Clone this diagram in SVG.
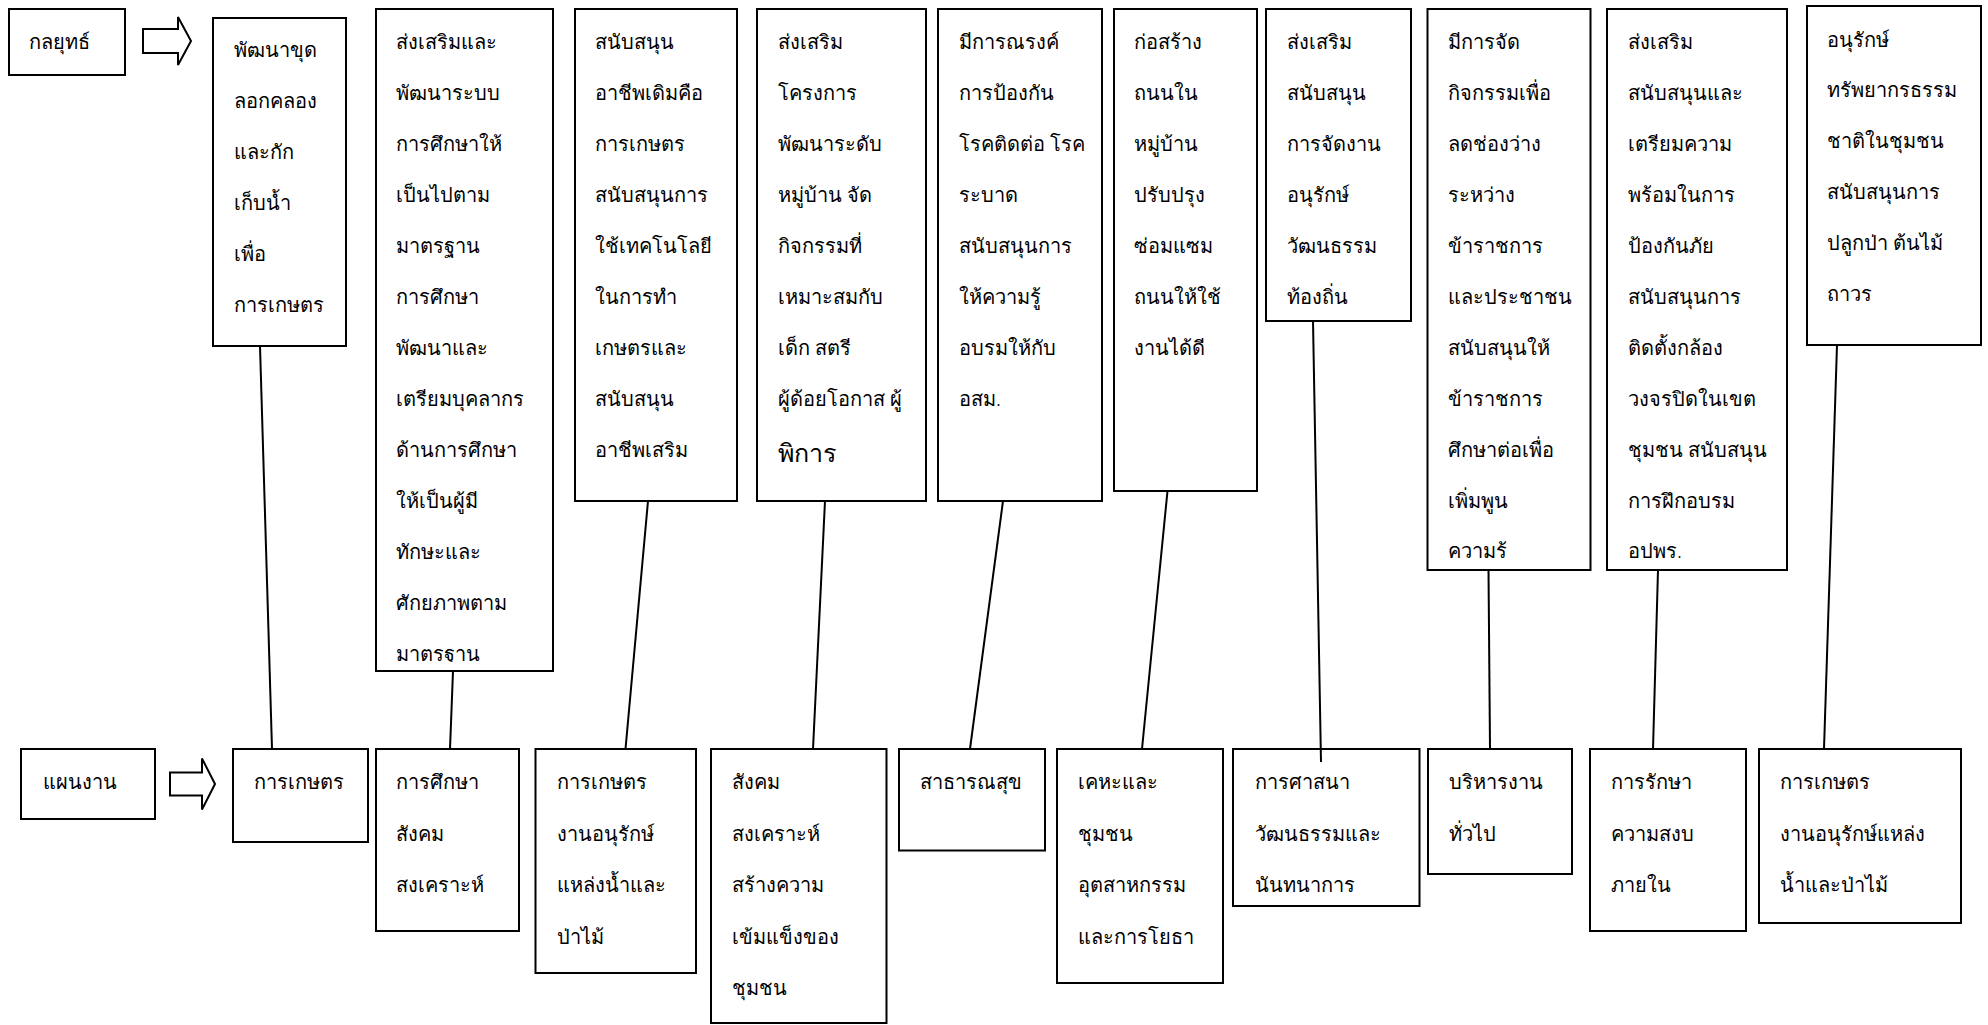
<svg xmlns="http://www.w3.org/2000/svg" width="1988" height="1025" viewBox="0 0 1988 1025">
<style>
.box{fill:#fff;stroke:#000;stroke-width:2}
.arr{fill:#fff;stroke:#000;stroke-width:2;stroke-linejoin:miter}
.t{font-family:"Noto Sans","DejaVu Sans",sans-serif;font-size:20px;font-weight:300;fill:#000}
.big{font-size:25px}
.conn line{stroke:#000;stroke-width:2}
</style>
<defs>
<clipPath id="clipB2"><rect x="376" y="9" width="177" height="653"/></clipPath>
<clipPath id="clipB8"><rect x="1427" y="9" width="164" height="550"/></clipPath>
</defs>
<rect width="1988" height="1025" fill="#fff"/>

<g id="label-strategy">
<rect class="box" x="9" y="9" width="116" height="66"/>
<text class="t" x="29" y="49">กลยุทธ์</text>
</g>
<g id="arrow-strategy">
<polygon class="arr" points="143,29 178,29 178,17 191,41 178,65 178,53 143,53"/>
</g>

<g id="s1">
<rect class="box" x="213" y="18" width="133" height="328"/>
<text class="t"><tspan x="234" y="57">พัฒนาขุด</tspan><tspan x="234" y="108">ลอกคลอง</tspan><tspan x="234" y="159">และกัก</tspan><tspan x="234" y="210">เก็บน้ำ</tspan><tspan x="234" y="261">เพื่อ</tspan><tspan x="234" y="312">การเกษตร</tspan></text>
</g>

<g id="s2">
<rect class="box" x="376" y="9" width="177" height="662"/>
<text class="t" clip-path="url(#clipB2)"><tspan x="396" y="49">ส่งเสริมและ</tspan><tspan x="396" y="100">พัฒนาระบบ</tspan><tspan x="396" y="151">การศึกษาให้</tspan><tspan x="396" y="202">เป็นไปตาม</tspan><tspan x="396" y="253">มาตรฐาน</tspan><tspan x="396" y="304">การศึกษา</tspan><tspan x="396" y="355">พัฒนาและ</tspan><tspan x="396" y="406">เตรียมบุคลากร</tspan><tspan x="396" y="457">ด้านการศึกษา</tspan><tspan x="396" y="508">ให้เป็นผู้มี</tspan><tspan x="396" y="559">ทักษะและ</tspan><tspan x="396" y="610">ศักยภาพตาม</tspan><tspan x="396" y="661">มาตรฐาน</tspan></text>
</g>

<g id="s3">
<rect class="box" x="575" y="9" width="162" height="492"/>
<text class="t"><tspan x="595" y="49">สนับสนุน</tspan><tspan x="595" y="100">อาชีพเดิมคือ</tspan><tspan x="595" y="151">การเกษตร</tspan><tspan x="595" y="202">สนับสนุนการ</tspan><tspan x="595" y="253">ใช้เทคโนโลยี</tspan><tspan x="595" y="304">ในการทำ</tspan><tspan x="595" y="355">เกษตรและ</tspan><tspan x="595" y="406">สนับสนุน</tspan><tspan x="595" y="457">อาชีพเสริม</tspan></text>
</g>

<g id="s4">
<rect class="box" x="757" y="9" width="169" height="492"/>
<text class="t"><tspan x="778" y="49">ส่งเสริม</tspan><tspan x="778" y="100">โครงการ</tspan><tspan x="778" y="151">พัฒนาระดับ</tspan><tspan x="778" y="202">หมู่บ้าน จัด</tspan><tspan x="778" y="253">กิจกรรมที่</tspan><tspan x="778" y="304">เหมาะสมกับ</tspan><tspan x="778" y="355">เด็ก สตรี</tspan><tspan x="778" y="406">ผู้ด้อยโอกาส ผู้</tspan><tspan class="big" x="778" y="462">พิการ</tspan></text>
</g>

<g id="s5">
<rect class="box" x="938" y="9" width="164" height="492"/>
<text class="t"><tspan x="959" y="49">มีการณรงค์</tspan><tspan x="959" y="100">การป้องกัน</tspan><tspan x="959" y="151">โรคติดต่อ โรค</tspan><tspan x="959" y="202">ระบาด</tspan><tspan x="959" y="253">สนับสนุนการ</tspan><tspan x="959" y="304">ให้ความรู้</tspan><tspan x="959" y="355">อบรมให้กับ</tspan><tspan x="959" y="406">อสม.</tspan></text>
</g>

<g id="s6">
<rect class="box" x="1114" y="9" width="143" height="482"/>
<text class="t"><tspan x="1134" y="49">ก่อสร้าง</tspan><tspan x="1134" y="100">ถนนใน</tspan><tspan x="1134" y="151">หมู่บ้าน</tspan><tspan x="1134" y="202">ปรับปรุง</tspan><tspan x="1134" y="253">ซ่อมแซม</tspan><tspan x="1134" y="304">ถนนให้ใช้</tspan><tspan x="1134" y="355">งานได้ดี</tspan></text>
</g>

<g id="s7">
<rect class="box" x="1266" y="9" width="145" height="312"/>
<text class="t"><tspan x="1287" y="49">ส่งเสริม</tspan><tspan x="1287" y="100">สนับสนุน</tspan><tspan x="1287" y="151">การจัดงาน</tspan><tspan x="1287" y="202">อนุรักษ์</tspan><tspan x="1287" y="253">วัฒนธรรม</tspan><tspan x="1287" y="304">ท้องถิ่น</tspan></text>
</g>

<g id="s8">
<rect class="box" x="1427.5" y="9" width="163" height="561"/>
<text class="t" clip-path="url(#clipB8)"><tspan x="1448" y="49">มีการจัด</tspan><tspan x="1448" y="100">กิจกรรมเพื่อ</tspan><tspan x="1448" y="151">ลดช่องว่าง</tspan><tspan x="1448" y="202">ระหว่าง</tspan><tspan x="1448" y="253">ข้าราชการ</tspan><tspan x="1448" y="304">และประชาชน</tspan><tspan x="1448" y="355">สนับสนุนให้</tspan><tspan x="1448" y="406">ข้าราชการ</tspan><tspan x="1448" y="457">ศึกษาต่อเพื่อ</tspan><tspan x="1448" y="508">เพิ่มพูน</tspan><tspan x="1448" y="558">ความรู้</tspan></text>
</g>

<g id="s9">
<rect class="box" x="1607" y="9" width="180" height="561"/>
<text class="t"><tspan x="1628" y="49">ส่งเสริม</tspan><tspan x="1628" y="100">สนับสนุนและ</tspan><tspan x="1628" y="151">เตรียมความ</tspan><tspan x="1628" y="202">พร้อมในการ</tspan><tspan x="1628" y="253">ป้องกันภัย</tspan><tspan x="1628" y="304">สนับสนุนการ</tspan><tspan x="1628" y="355">ติดตั้งกล้อง</tspan><tspan x="1628" y="406">วงจรปิดในเขต</tspan><tspan x="1628" y="457">ชุมชน สนับสนุน</tspan><tspan x="1628" y="508">การฝึกอบรม</tspan><tspan x="1628" y="558">อปพร.</tspan></text>
</g>

<g id="s10">
<rect class="box" x="1807" y="6" width="174" height="339"/>
<text class="t"><tspan x="1827" y="46.5">อนุรักษ์</tspan><tspan x="1827" y="97.3">ทรัพยากรธรรม</tspan><tspan x="1827" y="148.1">ชาติในชุมชน</tspan><tspan x="1827" y="198.9">สนับสนุนการ</tspan><tspan x="1827" y="249.7">ปลูกป่า ต้นไม้</tspan><tspan x="1827" y="300.5">ถาวร</tspan></text>
</g>

<g id="label-plan">
<rect class="box" x="21" y="749" width="134" height="70"/>
<text class="t" x="43" y="789">แผนงาน</text>
</g>
<g id="arrow-plan">
<polygon class="arr" points="170,772.5 202,772.5 202,758.5 215,784 202,809.5 202,795.5 170,795.5"/>
</g>

<g id="p1">
<rect class="box" x="233" y="749" width="135" height="93"/>
<text class="t" x="254" y="789">การเกษตร</text>
</g>
<g id="p2">
<rect class="box" x="376" y="749" width="143" height="182"/>
<text class="t"><tspan x="396" y="789">การศึกษา</tspan><tspan x="396" y="840.5">สังคม</tspan><tspan x="396" y="892">สงเคราะห์</tspan></text>
</g>
<g id="p3">
<rect class="box" x="535.5" y="749" width="160.5" height="224"/>
<text class="t"><tspan x="556.5" y="789">การเกษตร</tspan><tspan x="556.5" y="840.5">งานอนุรักษ์</tspan><tspan x="556.5" y="892">แหล่งน้ำและ</tspan><tspan x="556.5" y="943.5">ป่าไม้</tspan></text>
</g>
<g id="p4">
<rect class="box" x="711" y="749" width="175.5" height="274"/>
<text class="t"><tspan x="732" y="789">สังคม</tspan><tspan x="732" y="840.5">สงเคราะห์</tspan><tspan x="732" y="892">สร้างความ</tspan><tspan x="732" y="943.5">เข้มแข็งของ</tspan><tspan x="732" y="995">ชุมชน</tspan></text>
</g>
<g id="p5">
<rect class="box" x="899" y="749" width="146" height="101.5"/>
<text class="t" x="920" y="789">สาธารณสุข</text>
</g>
<g id="p6">
<rect class="box" x="1057" y="749" width="166" height="234"/>
<text class="t"><tspan x="1077.5" y="789">เคหะและ</tspan><tspan x="1077.5" y="840.5">ชุมชน</tspan><tspan x="1077.5" y="892">อุตสาหกรรม</tspan><tspan x="1077.5" y="943.5">และการโยธา</tspan></text>
</g>
<g id="p7">
<rect class="box" x="1233" y="749" width="186.5" height="157"/>
<text class="t"><tspan x="1255" y="789">การศาสนา</tspan><tspan x="1255" y="840.5">วัฒนธรรมและ</tspan><tspan x="1255" y="892">นันทนาการ</tspan></text>
</g>
<g id="p8">
<rect class="box" x="1428" y="749" width="144" height="125"/>
<text class="t"><tspan x="1449" y="789">บริหารงาน</tspan><tspan x="1449" y="840.5">ทั่วไป</tspan></text>
</g>
<g id="p9">
<rect class="box" x="1590" y="749" width="156" height="182"/>
<text class="t"><tspan x="1611" y="789">การรักษา</tspan><tspan x="1611" y="840.5">ความสงบ</tspan><tspan x="1611" y="892">ภายใน</tspan></text>
</g>
<g id="p10">
<rect class="box" x="1759" y="749" width="202" height="174"/>
<text class="t"><tspan x="1780" y="789">การเกษตร</tspan><tspan x="1780" y="840.5">งานอนุรักษ์แหล่ง</tspan><tspan x="1780" y="892">น้ำและป่าไม้</tspan></text>
</g>

<g id="connectors" class="conn">
<line x1="260" y1="346" x2="272" y2="749"/>
<line x1="453" y1="671" x2="450" y2="749"/>
<line x1="648" y1="501" x2="625.5" y2="749"/>
<line x1="825" y1="501" x2="813" y2="749"/>
<line x1="1003" y1="501" x2="970" y2="749"/>
<line x1="1167.5" y1="491" x2="1142" y2="749"/>
<line x1="1313" y1="321" x2="1321" y2="762"/>
<line x1="1488.5" y1="570" x2="1490" y2="749"/>
<line x1="1658" y1="570" x2="1653" y2="749"/>
<line x1="1837" y1="345" x2="1824" y2="749"/>
</g>
</svg>
